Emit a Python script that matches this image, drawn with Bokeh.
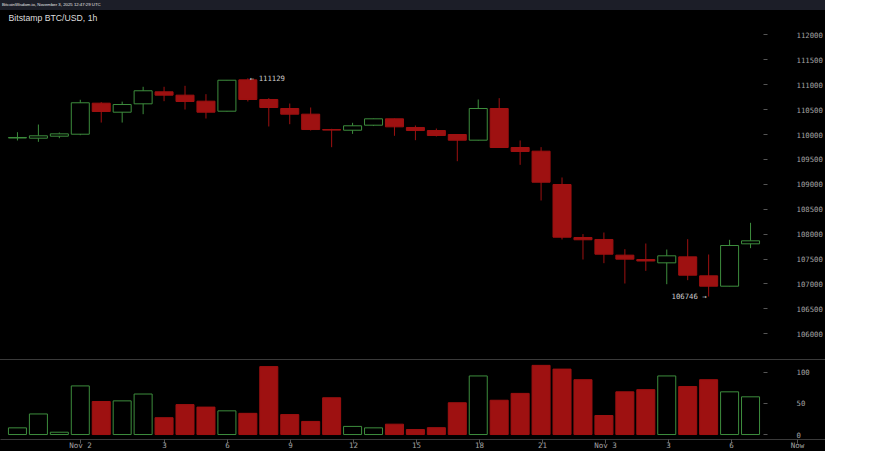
from bokeh.plotting import figure
from bokeh.models import Range1d, FixedTicker, Label, Div, BasicTickFormatter
from bokeh.layouts import column
from bokeh.embed import file_html
from bokeh.resources import INLINE

# ---------------- data ----------------
hours = list(range(36))  # hourly candles, Nov 1 21:00 .. Nov 3 08:00
opens = [109930, 109926, 109966, 110006, 110629, 110448, 110616, 110857, 110790, 110669,
         110468, 111097, 110703, 110522, 110408, 110100, 110086, 110187, 110315, 110141,
         110080, 110000, 109886, 110522, 109739, 109665, 108996, 107932, 107892, 107577,
         107490, 107423, 107543, 107162, 106954, 107805]
closes = [109940, 109974, 110013, 110637, 110462, 110602, 110878, 110790, 110663, 110448,
          111090, 110703, 110542, 110408, 110100, 110088, 110175, 110315, 110154, 110080,
          109980, 109886, 110522, 109739, 109659, 109042, 107938, 107886, 107597, 107497,
          107460, 107564, 107175, 106954, 107771, 107865]
highs = [110046, 110200, 110040, 110697, 110650, 110660, 110958, 110958, 110978, 110810,
         111095, 111129, 110730, 110622, 110542, 110114, 110235, 110320, 110320, 110181,
         110120, 110005, 110703, 110730, 109880, 109746, 109137, 108000, 108032, 107697,
         107811, 107690, 107898, 107590, 107885, 108227]
lows = [109880, 109853, 109926, 109986, 110240, 110240, 110408, 110669, 110502, 110321,
        110460, 110663, 110161, 110207, 110080, 109745, 110013, 110170, 109974, 109886,
        109960, 109464, 109880, 109735, 109391, 108675, 107892, 107490, 107416, 107008,
        107262, 106994, 107075, 106746, 106950, 107718]
volumes = [10.7, 33, 3.7, 78, 53, 54, 65, 27, 48, 44, 38, 34, 109, 32, 21, 59, 13, 10.7,
           16.6, 8, 11, 51, 94, 55, 66, 111, 105, 88, 30.5, 68.5, 72, 94, 77, 88, 68.5, 60.5]

tick_hours = [3, 7, 10, 13, 16, 19, 22, 25, 28, 31, 34, 37.14]
tick_labels = ["Nov 2", "3", "6", "9", "12", "15", "18", "21", "Nov 3", "3", "6", "Now"]
price_ticks = list(range(106000, 112001, 500))
volume_ticks = [0, 50, 100]
title_text = "Bitstamp BTC/USD, 1h"
header_text = "BitcoinWisdom.io, November 3, 2025 12:47:29 UTC"
max_label = "\u2190 111129"
min_label = "106746 \u2192"
max_hour, max_price = 11, 111129
min_hour, min_price = 33, 106746

# ---------------- styles ----------------
RED = "#9e1111"
GREEN = "#3d8d3d"
BG = "#000000"
AXIS_TXT = "#a3a3a3"
TICK = "#555555"
LINE = "#3a3a3a"
MONO = "DejaVu Sans Mono"
PX_PER_HOUR = 21.0
FIRST_X = 17.0  # pixel centre of the first candle

up = [c >= o for o, c in zip(opens, closes)]
line_col = [GREEN if u else RED for u in up]
fill_col = [BG if u else RED for u in up]
body_top = [max(o, c) for o, c in zip(opens, closes)]
body_bot = [min(o, c) for o, c in zip(opens, closes)]

x_start = -FIRST_X / PX_PER_HOUR
x_range = Range1d(x_start, (765 - FIRST_X) / PX_PER_HOUR)      # plot frames: 0..765 px
x_range_full = Range1d(x_start, (825 - FIRST_X) / PX_PER_HOUR)  # time axis strip: 0..825 px


def style_common(f):
    f.background_fill_color = BG
    f.border_fill_color = BG
    f.outline_line_color = None
    f.xgrid.visible = False
    f.ygrid.visible = False
    f.styles = {"background-color": BG}


def style_yaxis(ax, ticks):
    ax.ticker = FixedTicker(ticks=ticks)
    ax.formatter = BasicTickFormatter(use_scientific=False)
    ax.axis_line_color = None
    ax.major_tick_line_color = TICK
    ax.major_tick_in = 0
    ax.major_tick_out = 4
    ax.minor_tick_line_color = None
    ax.minor_tick_in = 0
    ax.minor_tick_out = 0
    ax.major_label_standoff = 29
    ax.major_label_text_align = "center"
    ax.major_label_text_color = AXIS_TXT
    ax.major_label_text_font = MONO
    ax.major_label_text_font_size = "7.3px"


# ---------------- price panel ----------------
p = figure(width=825, height=349, x_range=x_range, y_range=Range1d(105482, 112490),
           output_backend="svg", toolbar_location=None, x_axis_location=None,
           y_axis_location="right", min_border_left=0, min_border_right=60,
           min_border_top=0, min_border_bottom=0, margin=0)
style_common(p)
style_yaxis(p.yaxis[0], price_ticks)

p.segment(x0=hours, y0=lows, x1=hours, y1=highs, line_color=line_col, line_width=1)
p.vbar(x=hours, width=0.86, top=body_top, bottom=body_bot, fill_color=fill_col,
       line_color=line_col, line_width=1)

p.add_layout(Label(x=x_range.start, y=112490, x_offset=8, y_offset=-7, text=title_text,
                   text_color="#dddddd", text_font="Liberation Sans", text_font_size="8.7px",
                   text_baseline="middle", text_align="left"))
p.add_layout(Label(x=max_hour, y=max_price, x_offset=2, text=max_label,
                   text_color="#cccccc", text_font=MONO, text_font_size="7.3px",
                   text_baseline="middle", text_align="left"))
p.add_layout(Label(x=min_hour, y=min_price, x_offset=-2, text=min_label,
                   text_color="#cccccc", text_font=MONO, text_font_size="7.3px",
                   text_baseline="middle", text_align="right"))

# ---------------- volume panel ----------------
v = figure(width=825, height=79, x_range=x_range, y_range=Range1d(-8.0, 118.8),
           output_backend="svg", toolbar_location=None, y_axis_location="right",
           x_axis_location=None, min_border_left=0, min_border_right=60,
           min_border_top=0, min_border_bottom=0, margin=0)
style_common(v)
style_yaxis(v.yaxis[0], volume_ticks)
v.vbar(x=hours, width=0.86, top=volumes, bottom=0, fill_color=fill_col,
       line_color=line_col, line_width=1)

# ---------------- time axis strip (spans the full width) ----------------
t = figure(width=825, height=12, x_range=x_range_full, y_range=Range1d(0, 1),
           output_backend="svg", toolbar_location=None, y_axis_location=None,
           min_border_left=0, min_border_right=0, min_border_top=0, min_border_bottom=11,
           margin=0, frame_align=False)
style_common(t)
xa = t.xaxis[0]
xa.ticker = FixedTicker(ticks=tick_hours)
xa.major_label_overrides = {h: s for h, s in zip(tick_hours, tick_labels)}
xa.axis_line_color = LINE
xa.major_tick_line_color = TICK
xa.major_tick_in = 0
xa.major_tick_out = 4
xa.minor_tick_line_color = None
xa.major_label_standoff = -3
xa.major_label_text_color = AXIS_TXT
xa.major_label_text_font = MONO
xa.major_label_text_font_size = "7.5px"

# ---------------- page ----------------
header = Div(text=header_text, width=825, height=10, margin=0,
             styles={"background-color": "#1c1e28", "color": "#e6e6e6",
                     "font-size": "4.3px", "font-family": "Liberation Sans",
                     "line-height": "10px", "padding-left": "2px",
                     "box-sizing": "border-box", "overflow": "hidden"})
sep = Div(text="", width=825, height=1, margin=0, styles={"background-color": LINE})

layout = column(header, p, sep, v, t, spacing=0, margin=0)

open("out.html", "w").write(file_html(layout, INLINE))
